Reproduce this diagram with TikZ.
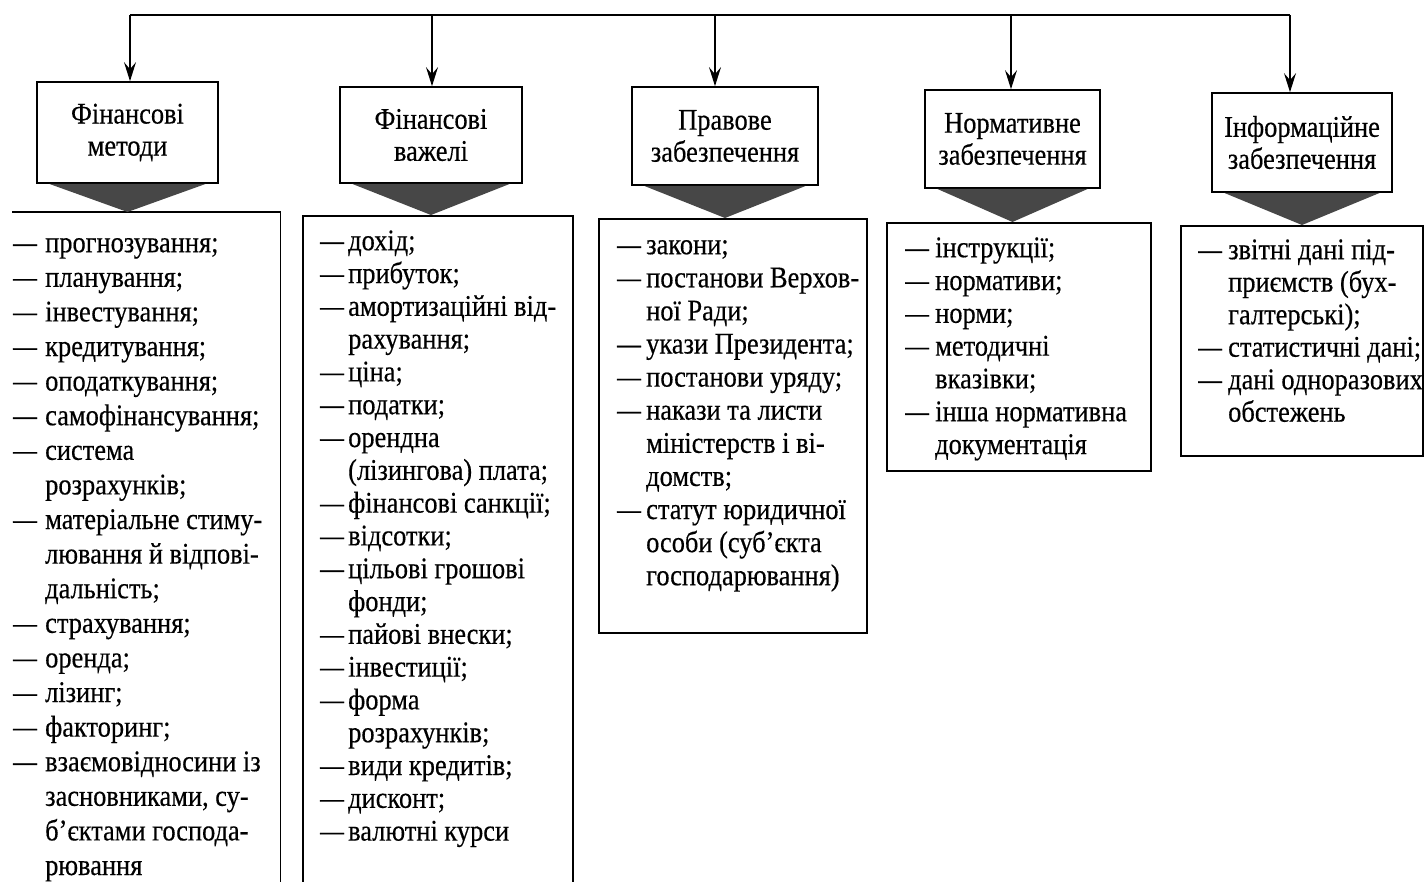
\documentclass[tikz,border=0pt]{standalone}
\usepackage{fontspec}
\usepackage{graphicx}
\setmainfont[FakeStretch=0.88,FakeBold=0.4]{Liberation Serif}
\usetikzlibrary{arrows.meta,calc}
\newlength\dashw
\setlength\dashw{30pt}
\newcommand\dd{\makebox[\dashw][l]{\scalebox{0.9}[1]{—}}}
\newcommand\ci{\hspace*{\dashw}}
\newcommand\fstrut{\rule{0pt}{23pt}}
\begin{document}
\begin{tikzpicture}[x=1pt,y=-1pt,
  hdr/.style={draw, line width=1.7pt, align=center, inner sep=0pt,
    font=\fontsize{30pt}{32pt}\selectfont},
  frame/.style={draw, line width=1.6pt, anchor=north west, inner sep=0pt},
  listtext/.style={anchor=north west, inner sep=0pt, align=left},
  wire/.style={line width=1.3pt},
  arr/.style={line width=1.3pt, -{Stealth[length=19pt,width=12pt,inset=7pt]}},
  funnel/.style={fill=black!72}
]
\useasboundingbox (0,0) rectangle (1427,881);
\clip (0,0) rectangle (1427,881);

% header boxes
\node[hdr, minimum width=181pt, minimum height=101pt] (h1) at (127.5,132.5) {Фінансові\\методи};
\node[hdr, minimum width=182pt, minimum height=96pt] (h2) at (431,135) {Фінансові\\важелі};
\node[hdr, minimum width=186pt, minimum height=98pt] (h3) at (725,136) {Правове\\забезпечення};
\node[hdr, minimum width=175pt, minimum height=98pt] (h4) at (1012.5,139) {Нормативне\\забезпечення};
\node[hdr, minimum width=180pt, minimum height=99pt] (h5) at (1302,142.5) {Інформаційне\\забезпечення};

% content frames
\node[inner sep=0pt, anchor=north west, minimum width=268pt, minimum height=700pt] (c1) at (12,212) {};
\draw[line width=1.6pt] (c1.north west) -- (c1.north east) -- (c1.south east);
\node[frame, minimum width=270pt, minimum height=700pt] (c2) at (302,215) {};
\node[frame, minimum width=268pt, minimum height=414pt] (c3) at (598,218) {};
\node[frame, minimum width=264pt, minimum height=248pt] (c4) at (886,222) {};
\node[frame, minimum width=242pt, minimum height=230pt] (c5) at (1180,225) {};

% funnels
\foreach \i in {1,...,5}{
  \fill[funnel] ($(h\i.south west)+(13,0)$) -- ($(h\i.south east)+(-13,0)$) -- (h\i.south |- c\i.north) -- cycle;
}

% connectors
\coordinate (t1) at (130,15);
\coordinate (t2) at (432,15);
\coordinate (t3) at (715,15);
\coordinate (t4) at (1011,15);
\coordinate (t5) at (1290,15);
\draw[wire] (t1) -- (t5);
\foreach \i in {1,...,5}{
  \draw[arr] (t\i) -- (t\i |- h\i.north);
}

% lists
\node[listtext, font=\fontsize{30pt}{34.6pt}\selectfont\setlength\dashw{32pt}] (l1) at (13,229) {\fstrut
\dd прогнозування;\\
\dd планування;\\
\dd інвестування;\\
\dd кредитування;\\
\dd оподаткування;\\
\dd самофінансування;\\
\dd система\\
\ci розрахунків;\\
\dd матеріальне стиму-\\
\ci лювання й відпові-\\
\ci дальність;\\
\dd страхування;\\
\dd оренда;\\
\dd лізинг;\\
\dd факторинг;\\
\dd взаємовідносини із\\
\ci засновниками, су-\\
\ci б’єктами господа-\\
\ci рювання};

\node[listtext, font=\fontsize{30pt}{32.8pt}\selectfont\setlength\dashw{28pt}] (l2) at (320,227) {\fstrut
\dd дохід;\\
\dd прибуток;\\
\dd амортизаційні від-\\
\ci рахування;\\
\dd ціна;\\
\dd податки;\\
\dd орендна\\
\ci (лізингова) плата;\\
\dd фінансові санкції;\\
\dd відсотки;\\
\dd цільові грошові\\
\ci фонди;\\
\dd пайові внески;\\
\dd інвестиції;\\
\dd форма\\
\ci розрахунків;\\
\dd види кредитів;\\
\dd дисконт;\\
\dd валютні курси};

\node[listtext, font=\fontsize{30pt}{33.1pt}\selectfont\setlength\dashw{29pt}] (l3) at (617,231) {\fstrut
\dd закони;\\
\dd постанови Верхов-\\
\ci ної Ради;\\
\dd укази Президента;\\
\dd постанови уряду;\\
\dd накази та листи\\
\ci міністерств і ві-\\
\ci домств;\\
\dd статут юридичної\\
\ci особи (суб’єкта\\
\ci господарювання)};

\node[listtext, font=\fontsize{30pt}{32.8pt}\selectfont\setlength\dashw{30pt}] (l4) at (905,234) {\fstrut
\dd інструкції;\\
\dd нормативи;\\
\dd норми;\\
\dd методичні\\
\ci вказівки;\\
\dd інша нормативна\\
\ci документація};

\node[listtext, font=\fontsize{30pt}{32.5pt}\selectfont\setlength\dashw{30pt}] (l5) at (1198,236) {\fstrut
\dd звітні дані під-\\
\ci приємств (бух-\\
\ci галтерські);\\
\dd статистичні дані;\\
\dd дані одноразових\\
\ci обстежень};
\end{tikzpicture}
\end{document}
